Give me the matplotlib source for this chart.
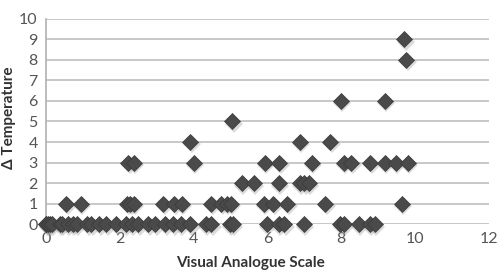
import matplotlib
matplotlib.use("Agg")
import matplotlib.pyplot as plt

# Visual Analogue Scale score for each patient, grouped by the temperature difference
vas_0 = [0.0, 0.0, 0.05, 0.1, 0.16, 0.37, 0.43, 0.59, 0.72, 0.83, 1.12, 1.23, 1.44,
         1.63, 1.9, 2.16, 2.32, 2.5, 2.77, 2.96, 3.23, 3.44, 3.65, 3.9, 4.32, 4.48,
         4.97, 5.06, 5.98, 6.3, 6.45, 6.98, 7.97, 8.07, 8.47, 8.77, 8.9]
vas_1 = [0.55, 0.94, 2.2, 2.28, 2.37, 3.18, 3.47, 3.68, 4.47, 4.75, 4.9, 5.0,
         5.9, 6.15, 6.53, 7.57, 9.64]
vas_2 = [5.3, 5.63, 6.3, 6.87, 7.0, 7.12]
vas_3 = [2.22, 2.38, 4.0, 5.92, 6.32, 7.2, 8.07, 8.27, 8.78, 9.17, 9.47, 9.8]
vas_4 = [3.9, 6.88, 7.7]
vas_5 = [5.05]
vas_6 = [7.98, 9.18]
vas_8 = [9.76]
vas_9 = [9.7]

groups = [(0, vas_0), (1, vas_1), (2, vas_2), (3, vas_3), (4, vas_4),
          (5, vas_5), (6, vas_6), (8, vas_8), (9, vas_9)]

x_ticks = [0, 2, 4, 6, 8, 10, 12]
y_ticks = list(range(0, 11))

fig = plt.figure(figsize=(5.01, 2.70), dpi=100)
ax = fig.add_axes([0.092, 0.17, 0.884, 0.76])

# Collect the points
xs = []
ys = []
for temp, values in groups:
    for v in values:
        xs.append(v)
        ys.append(temp)

# Soft shadow under the markers, then the markers
ax.plot([x + 0.04 for x in xs], [y - 0.12 for y in ys], "D", markersize=9,
        color="#9a9a9a", alpha=0.35, markeredgewidth=0, zorder=2, clip_on=False)
ax.plot(xs, ys, "D", markersize=8.5, color="#4a4a4a", markeredgecolor="#3a3a3a",
        markeredgewidth=0.5, zorder=3, clip_on=False)

ax.set_xlim(0, 12)
ax.set_ylim(0, 10)
ax.set_xticks(x_ticks)
ax.set_yticks(y_ticks)
ax.grid(axis="y", color="#c4c4c4", linewidth=1.3)
ax.set_axisbelow(True)
ax.tick_params(length=0, labelsize=11.5, colors="#555555", pad=6)
for label in ax.get_xticklabels() + ax.get_yticklabels():
    label.set_family("Lato")

for side in ["top", "right", "bottom"]:
    ax.spines[side].set_visible(False)
ax.spines["left"].set_color("#b0b0b0")
ax.spines["left"].set_linewidth(1.2)

fig.text(0.5, 0.0, "Visual Analogue Scale", ha="center", va="bottom",
         fontsize=11, fontweight="bold", family="Lato", color="#333333")
fig.text(0.018, 0.565, "\u0394 Temperature", ha="center", va="center", rotation=90,
         fontsize=11, fontweight="bold", family="Lato", color="#333333")

fig.savefig("out.png", dpi=100)
